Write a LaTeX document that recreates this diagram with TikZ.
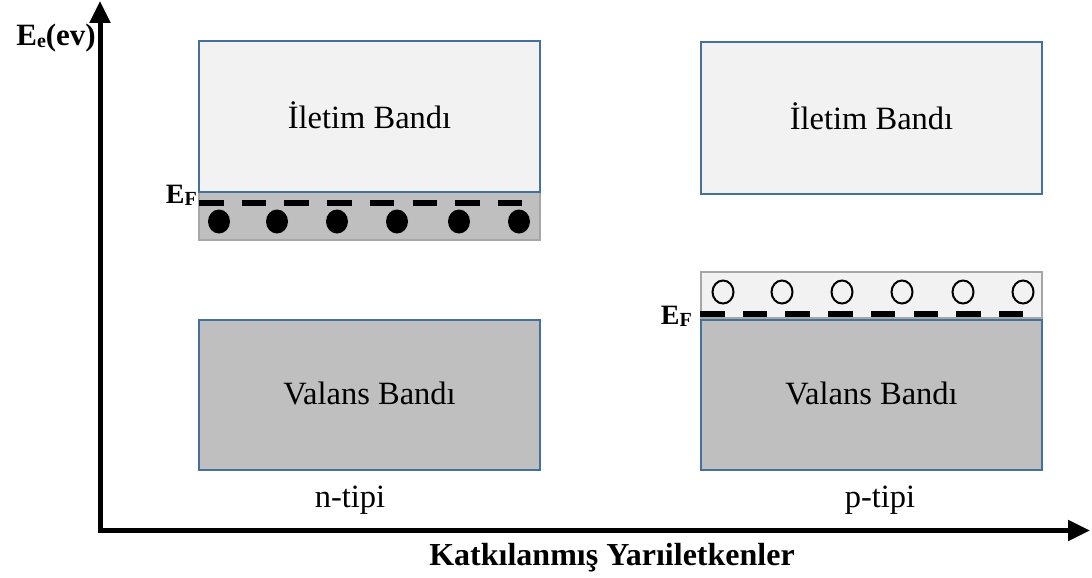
\documentclass[tikz,border=0pt]{standalone}
\usepackage{fontspec}
\setmainfont{Liberation Serif}
\usetikzlibrary{arrows.meta}
\definecolor{bandblue}{RGB}{65,113,156}
\definecolor{lightfill}{RGB}{242,242,242}
\definecolor{darkfill}{RGB}{191,191,191}
\definecolor{edgegrey}{RGB}{166,166,166}
\tikzset{
  conduction/.style={draw=bandblue, line width=2pt, fill=lightfill, minimum width=341pt, minimum height=151pt, inner sep=0pt},
  valence/.style={draw=bandblue, line width=2pt, fill=darkfill, minimum width=341pt, minimum height=150pt, inner sep=0pt},
  dopant/.style={draw=edgegrey, line width=2pt, minimum width=341pt, inner sep=0pt},
  bandtext/.style={font=\fontsize{32.5}{38}\selectfont},
  labeltext/.style={font=\bfseries\fontsize{28}{32}\selectfont, inner sep=0pt},
  axis/.style={line width=5pt, -{Triangle[length=22pt,width=20pt]}},
  fermi/.style={line width=6pt, dash pattern=on 24.5pt off 18.2pt},
  electron/.style={fill=black, draw=none},
  hole/.style={draw=black, line width=2pt, fill=none}
}
\newcommand{\sublabel}[2]{#1\raisebox{-0.08em}{\fontsize{20}{22}\selectfont #2}}
\begin{document}
\begin{tikzpicture}[x=1pt, y=-1pt]
\useasboundingbox (0,0) rectangle (1092,578);

% axes
\coordinate (ytip) at (100,1);
\coordinate (xtip) at (1090,530.5);
\draw[axis] (100,533) -- (ytip);
\draw[axis] (97.5,530.5) -- (xtip);
\node[labeltext, anchor=east, font=\bfseries\fontsize{31}{34}\selectfont] (ylabel) at (96,38) {\sublabel{E}{e}(ev)};
\node[font=\bfseries\fontsize{32}{38}\selectfont] (xlabel) at (612,558) {Katkılanmış Yarıiletkenler};

% n-type semiconductor
\node[dopant, fill=darkfill, minimum height=48pt] (ndonor) at (369.5,216) {};
\node[conduction] (ncond) at (369.5,116.5) {};
\node[bandtext] (ncondtext) at (369.5,115) {İletim Bandı};
\node[valence] (nval) at (369.5,395) {};
\node[bandtext] (nvaltext) at (369.5,393) {Valans Bandı};
\draw[fermi] (199,203) -- (523,203);
\foreach \x in {219,277,337,397,459,519}
  \fill[electron] (\x,221.5) ellipse (11pt and 12pt);
\node[labeltext, anchor=east] (nfermi) at (197,195) {\sublabel{E}{F}};
\node[bandtext] (ntype) at (350,500) {n-tipi};

% p-type semiconductor
\node[conduction] (pcond) at (871.5,118) {};
\node[bandtext] (pcondtext) at (871.5,116) {İletim Bandı};
\node[dopant, fill=lightfill, minimum height=46pt] (pacceptor) at (871.5,295) {};
\node[valence] (pval) at (871.5,395) {};
\node[bandtext] (pvaltext) at (871.5,393) {Valans Bandı};
\draw[fermi] (700,314) -- (1023,314);
\foreach \x in {723,782,842,902,963,1023}
  \draw[hole] (\x,292) ellipse (10.5pt and 11.5pt);
\node[labeltext, anchor=east] (pfermi) at (692,316) {\sublabel{E}{F}};
\node[bandtext] (ptype) at (880,500) {p-tipi};
\end{tikzpicture}
\end{document}
